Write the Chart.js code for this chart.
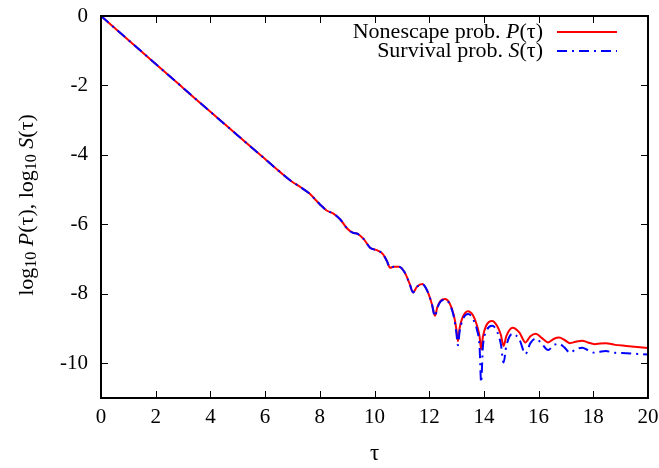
<!DOCTYPE html>
<html>
<head>
<meta charset="utf-8">
<script src="https://cdn.jsdelivr.net/npm/chart.js@4.4.1/dist/chart.umd.min.js"></script>
<style>
  html, body { margin: 0; padding: 0; background: #fff; }
  #c { display: block; }
</style>
</head>
<body>
<canvas id="c" width="659" height="468"></canvas>
<script>
// Dimensionless time τ
const tau = [0, 1, 2, 3, 4, 5, 6, 6.5, 7.0, 7.3, 7.6, 8.0, 8.25, 8.5, 8.75, 9.0, 9.2, 9.4, 9.6, 9.85,
  10.1, 10.3, 10.45, 10.57, 10.7, 10.9, 11.1, 11.28, 11.41, 11.55, 11.75, 11.95, 12.1, 12.21, 12.3, 12.42,
  12.58, 12.75, 12.9, 12.99, 13.05, 13.11, 13.22, 13.42, 13.6, 13.75, 13.84, 13.9, 13.96, 14.08, 14.3,
  14.48, 14.62, 14.72, 14.82, 15.05, 15.3, 15.52, 15.7, 15.9, 16.1, 16.35, 16.55, 16.75, 16.95, 17.15,
  17.35, 17.6, 17.8, 18.05, 18.25, 18.45, 18.8, 19.2, 19.6, 20];

// log10 of the nonescape probability P(τ)
const logP = [0, -0.69, -1.38, -2.07, -2.76, -3.44, -4.12, -4.46, -4.78, -4.93, -5.10, -5.42, -5.60, -5.69, -5.86,
  -6.12, -6.24, -6.28, -6.42, -6.68, -6.75, -6.85, -7.05, -7.25, -7.22, -7.22, -7.38, -7.70, -7.96, -7.80,
  -7.72, -7.95, -8.30, -8.63, -8.38, -8.20, -8.15, -8.28, -8.62, -9.00, -9.36, -9.00, -8.68, -8.50, -8.62,
  -8.92, -9.22, -9.60, -9.25, -8.92, -8.78, -8.92, -9.18, -9.50, -9.22, -8.98, -9.12, -9.40, -9.22, -9.15,
  -9.26, -9.40, -9.30, -9.26, -9.33, -9.42, -9.38, -9.35, -9.40, -9.45, -9.43, -9.42, -9.47, -9.50, -9.53, -9.56];

// log10 of the survival probability S(τ)
const logS = [0, -0.69, -1.38, -2.07, -2.76, -3.44, -4.12, -4.46, -4.78, -4.93, -5.10, -5.42, -5.60, -5.69, -5.86,
  -6.12, -6.24, -6.28, -6.42, -6.68, -6.75, -6.85, -7.05, -7.25, -7.22, -7.22, -7.38, -7.70, -7.96, -7.80,
  -7.72, -7.95, -8.30, -8.65, -8.40, -8.22, -8.17, -8.30, -8.66, -9.10, -9.48, -9.10, -8.75, -8.58, -8.72,
  -9.05, -9.50, -10.55, -9.55, -9.10, -8.92, -9.08, -9.45, -9.98, -9.50, -9.15, -9.32, -9.73, -9.42, -9.29,
  -9.42, -9.62, -9.48, -9.44, -9.55, -9.70, -9.60, -9.55, -9.62, -9.70, -9.67, -9.65, -9.70, -9.71, -9.73, -9.75];

const xTicks = [0, 2, 4, 6, 8, 10, 12, 14, 16, 18, 20];
const yTicks = [0, -2, -4, -6, -8, -10];

const SERIF = "'Liberation Serif', 'DejaVu Serif', serif";

// Draws a sequence of text runs (normal / italic / subscript) starting at x
function drawRuns(ctx, runs, x, y, size, subSize) {
  let cx = x;
  for (const r of runs) {
    ctx.font = (r.italic ? 'italic ' : '') + (r.sub ? subSize : size) + 'px ' + SERIF;
    ctx.fillText(r.t, cx, y + (r.sub ? 5 : 0));
    cx += ctx.measureText(r.t).width;
  }
  return cx - x;
}
function runsWidth(ctx, runs, size, subSize) {
  let w = 0;
  for (const r of runs) {
    ctx.font = (r.italic ? 'italic ' : '') + (r.sub ? subSize : size) + 'px ' + SERIF;
    w += ctx.measureText(r.t).width;
  }
  return w;
}

function pts(ys) { return tau.map((t, i) => ({ x: t, y: ys[i] })); }

const framePlugin = {
  id: 'frame',
  afterDatasetsDraw(chart) {
    const { ctx, chartArea: a, scales } = chart;
    ctx.save();
    ctx.strokeStyle = '#000';
    ctx.lineWidth = 1;
    const L = 7;
    ctx.beginPath();
    for (const v of xTicks) {
      const px = Math.round(scales.x.getPixelForValue(v)) + 0.5;
      ctx.moveTo(px, a.bottom); ctx.lineTo(px, a.bottom - L);
      ctx.moveTo(px, a.top); ctx.lineTo(px, a.top + L);
    }
    for (const v of yTicks) {
      const py = Math.round(scales.y.getPixelForValue(v)) + 0.5;
      ctx.moveTo(a.left, py); ctx.lineTo(a.left + L, py);
      ctx.moveTo(a.right, py); ctx.lineTo(a.right - L, py);
    }
    ctx.stroke();
    ctx.lineWidth = 2;
    ctx.strokeRect(a.left, a.top, a.right - a.left, a.bottom - a.top);
    ctx.restore();
  },
  afterDraw(chart) {
    const { ctx } = chart;
    ctx.save();
    ctx.fillStyle = '#000';
    ctx.textBaseline = 'middle';
    ctx.textAlign = 'left';

    // y-axis title with subscripts and italic symbols
    const yRuns = [
      { t: 'log' }, { t: '10', sub: true }, { t: ' ' }, { t: 'P', italic: true }, { t: '(τ), log' },
      { t: '10', sub: true }, { t: ' ' }, { t: 'S', italic: true }, { t: '(τ)' }
    ];
    ctx.translate(27, 205);
    ctx.rotate(-Math.PI / 2);
    const w = runsWidth(ctx, yRuns, 22, 16);
    drawRuns(ctx, yRuns, -w / 2, 0, 22, 16);
    ctx.restore();

    // legend: right-aligned labels followed by line samples
    const entries = [
      { runs: [{ t: 'Nonescape prob. ' }, { t: 'P', italic: true }, { t: '(τ)' }], ds: chart.data.datasets[1], y: 32 },
      { runs: [{ t: 'Survival prob. ' }, { t: 'S', italic: true }, { t: '(τ)' }], ds: chart.data.datasets[0], y: 51 }
    ];
    ctx.save();
    ctx.fillStyle = '#000';
    ctx.textBaseline = 'middle';
    for (const e of entries) {
      const ew = runsWidth(ctx, e.runs, 22, 16);
      drawRuns(ctx, e.runs, 543 - ew, e.y, 22, 16);
      ctx.beginPath();
      ctx.strokeStyle = e.ds.borderColor;
      ctx.lineWidth = e.ds.borderWidth;
      ctx.setLineDash(e.ds.borderDash || []);
      ctx.moveTo(557, e.y);
      ctx.lineTo(617, e.y);
      ctx.stroke();
    }
    ctx.restore();
  }
};

new Chart(document.getElementById('c'), {
  type: 'line',
  data: {
    datasets: [
      {
        label: 'Survival prob. S(τ)',
        data: pts(logS),
        borderColor: '#0000ff',
        borderWidth: 2,
        borderDash: [10, 5, 2, 5],
        pointRadius: 0,
        cubicInterpolationMode: 'monotone',
        fill: false
      },
      {
        label: 'Nonescape prob. P(τ)',
        data: pts(logP),
        borderColor: '#ff0000',
        borderWidth: 2,
        pointRadius: 0,
        cubicInterpolationMode: 'monotone',
        fill: false
      }
    ]
  },
  options: {
    responsive: false,
    animation: false,
    devicePixelRatio: 1,
    layout: { padding: { top: 16, right: 11, left: 0, bottom: 0 } },
    plugins: { legend: { display: false }, tooltip: { enabled: false } },
    scales: {
      x: {
        type: 'linear',
        min: 0, max: 20,
        afterBuildTicks: s => { s.ticks = xTicks.map(v => ({ value: v })); },
        afterFit: s => { s.height = 70; s.paddingLeft = 0; s.paddingRight = 0; },
        grid: { display: false, drawTicks: false },
        border: { display: false },
        ticks: { color: '#000', padding: 7, maxRotation: 0, font: { family: SERIF, size: 21 } },
        title: { display: true, text: 'τ', color: '#000', font: { family: SERIF, size: 23 }, padding: { top: 0, bottom: 0 } }
      },
      y: {
        type: 'linear',
        min: -11, max: 0,
        afterBuildTicks: s => { s.ticks = yTicks.map(v => ({ value: v })); },
        afterFit: s => { s.width = 101; s.paddingTop = 0; s.paddingBottom = 0; },
        grid: { display: false, drawTicks: false },
        border: { display: false },
        ticks: { color: '#000', padding: 13, font: { family: SERIF, size: 21 } }
      }
    }
  },
  plugins: [framePlugin]
});
</script>
</body>
</html>
